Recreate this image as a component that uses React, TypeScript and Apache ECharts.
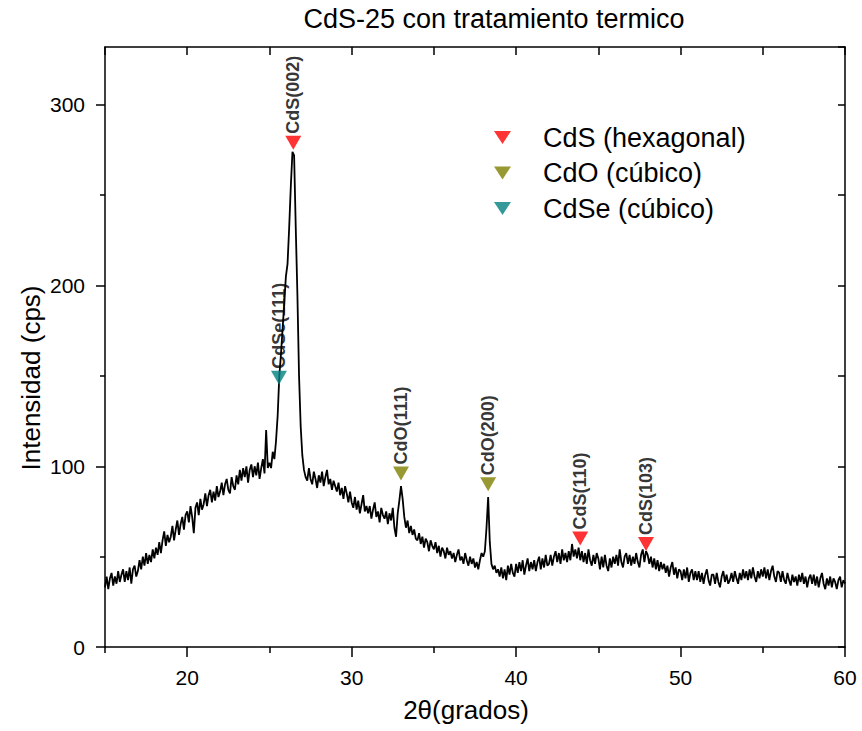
import React, { useEffect, useRef } from "react";
import * as echarts from "echarts";

// 2θ grid of the measured pattern
const TWO_THETA_START = 15;
const TWO_THETA_STEP = 0.1;

// Intensity (cps), one value per 0.1° from 15.0 to 60.0
const intensity: number[] = [
  33, 39, 32, 38, 41, 34, 39, 35, 42, 36,
  40, 43, 36, 42, 37, 44, 35, 43, 45, 39,
  42, 48, 43, 50, 45, 52, 46, 51, 47, 54,
  49, 55, 51, 58, 52, 59, 64, 56, 62, 58,
  61, 67, 59, 65, 70, 62, 68, 72, 65, 73,
  75, 69, 78, 72, 63, 77, 80, 73, 82, 76,
  79, 85, 78, 84, 87, 80, 86, 81, 89, 83,
  86, 91, 84, 90, 93, 87, 85, 94, 89, 87,
  95, 90, 98, 92, 99, 94, 100, 91, 98, 101,
  94, 100, 95, 102, 93, 99, 104, 96, 120, 99,
  102, 99, 108, 104, 114, 128, 150, 162, 176, 190,
  205, 212, 232, 255, 274, 272, 232, 195, 150, 122,
  106, 98, 94, 92, 99, 93, 90, 97, 93, 88,
  95, 91, 97, 89, 94, 98, 90, 93, 87, 92,
  89, 86, 91, 84, 88, 82, 89, 85, 80, 86,
  80, 77, 83, 76, 81, 74, 79, 84, 75, 78,
  74, 78, 71, 76, 80, 72, 75, 69, 77, 73,
  71, 75, 68, 74, 70, 77, 66, 61, 74, 81,
  89, 82, 72, 66, 70, 63, 67, 62, 65, 60,
  59, 63, 57, 61, 55, 60, 58, 53, 59, 56,
  54, 58, 52, 56, 50, 55, 53, 49, 55, 51,
  53, 49, 52, 47, 51, 54, 48, 50, 46, 52,
  48, 45, 50, 46, 49, 44, 47, 43, 48, 52,
  50, 53, 66, 83, 58, 46, 43, 45, 41, 43,
  39, 44, 38, 43, 37, 45, 40, 46, 41, 39,
  46, 41, 47, 42, 48, 40, 45, 49, 42, 47,
  43, 48, 42, 47, 50, 43, 49, 44, 51, 45,
  46, 51, 45, 50, 53, 47, 52, 46, 54, 48,
  52, 47, 53, 48, 57, 50, 54, 49, 55, 48,
  53, 47, 52, 46, 54, 48, 45, 51, 46, 52,
  49, 43, 50, 44, 51, 45, 42, 49, 44, 50,
  46, 51, 45, 54, 47, 44, 50, 52, 46, 51,
  45, 50, 46, 52, 47, 44, 51, 54, 47, 53,
  51, 46, 50, 44, 49, 43, 48, 42, 47, 43,
  46, 41, 45, 39, 44, 47, 40, 44, 38, 43,
  42, 37, 43, 38, 44, 36, 41, 43, 37, 42,
  37, 42, 36, 41, 35, 40, 43, 37, 34, 40,
  40, 35, 41, 36, 33, 39, 42, 36, 40, 35,
  37, 41, 36, 42, 38, 35, 41, 37, 43, 38,
  42, 37, 43, 38, 44, 39, 36, 42, 38, 43,
  39, 44, 38, 43, 37, 42, 45, 39, 36, 42,
  41, 36, 42, 37, 35, 41, 37, 34, 40, 36,
  39, 34, 40, 36, 41, 35, 39, 33, 38, 40,
  35, 40, 34, 39, 33, 38, 41, 35, 32, 38,
  34, 39, 33, 38, 36, 32, 37, 39, 33, 37,
  35,
];

// Peak markers: [2θ, marker height]
const cdsNames = ["CdS(002)", "CdS(110)", "CdS(103)"];
const cdsPeaks: [number, number][] = [[26.45, 279], [43.9, 60], [47.9, 57]];
const cdoNames = ["CdO(111)", "CdO(200)"];
const cdoPeaks: [number, number][] = [[33.0, 96], [38.3, 90]];
const cdseNames = ["CdSe(111)"];
const cdsePeaks: [number, number][] = [[25.58, 149]];

const xMajorTicks = [20, 30, 40, 50, 60];
const xMinorTicks = [15, 25, 35, 45, 55];
const yMajorTicks = [0, 100, 200, 300];
const yMinorTicks = [50, 150, 250];

const FONT = "'Liberation Sans', Arial, Helvetica, sans-serif";
const BLACK = "#000000";

export default function App() {
  const ref = useRef<HTMLDivElement>(null);

  useEffect(() => {
    document.body.style.margin = "0";
    if (!ref.current) return;
    const chart = echarts.init(ref.current, undefined, { renderer: "svg" });

    const lineData = intensity.map((v, i) => [
      +(TWO_THETA_START + i * TWO_THETA_STEP).toFixed(2),
      v,
    ]);

    const peakLabel = {
      show: true,
      formatter: "{b}",
      position: "top" as const,
      rotate: 90,
      align: "left" as const,
      verticalAlign: "middle" as const,
      distance: 2,
      fontFamily: FONT,
      fontWeight: "bold" as const,
      fontSize: 18,
      color: BLACK,
    };

    const markerSeries = (
      name: string,
      color: string,
      names: string[],
      pts: [number, number][]
    ) => ({
      name,
      type: "scatter",
      symbol: "triangle",
      symbolRotate: 180,
      symbolSize: [16, 14],
      xAxisIndex: 0,
      yAxisIndex: 0,
      itemStyle: { color },
      label: peakLabel,
      z: 5,
      data: pts.map((p, i) => ({ name: names[i], value: p })),
    });

    const axisLineStyle = { color: BLACK, width: 1.5 };
    const baseX = {
      type: "value" as const,
      min: 15,
      max: 60,
      interval: 5,
      splitLine: { show: false },
    };
    const baseY = {
      type: "value" as const,
      min: 0,
      max: 332,
      interval: 50,
      splitLine: { show: false },
    };

    const option: any = {
      animation: false,
      backgroundColor: "#ffffff",
      grid: { left: 105, right: 17, top: 47, bottom: 84, containLabel: false },
      legend: {
        orient: "vertical",
        left: 494,
        top: 124,
        padding: 0,
        itemWidth: 17,
        itemHeight: 13,
        itemGap: 8.5,
        textStyle: {
          fontFamily: FONT,
          fontSize: 27,
          color: BLACK,
          padding: [0, 0, 0, 27],
        },
        data: [
          { name: "CdS (hexagonal)", icon: "path://M0,0L17,0L8.5,13Z" },
          { name: "CdO (cúbico)", icon: "path://M0,0L17,0L8.5,13Z" },
          { name: "CdSe (cúbico)", icon: "path://M0,0L17,0L8.5,13Z" },
        ],
      },
      xAxis: [
        {
          ...baseX,
          position: "bottom",
          axisLine: { show: true, onZero: false, lineStyle: axisLineStyle },
          axisTick: {
            show: true,
            inside: false,
            length: 10,
            customValues: xMajorTicks,
            lineStyle: axisLineStyle,
          },
          axisLabel: {
            show: true,
            margin: 20,
            fontFamily: FONT,
            fontSize: 21,
            color: BLACK,
            formatter: (v: number) => (v % 10 === 0 ? String(v) : ""),
          },
        },
        {
          ...baseX,
          position: "bottom",
          axisLine: { show: false, onZero: false },
          axisTick: {
            show: true,
            inside: false,
            length: 6,
            customValues: xMinorTicks,
            lineStyle: axisLineStyle,
          },
          axisLabel: { show: false },
        },
        {
          ...baseX,
          position: "top",
          axisLine: { show: true, onZero: false, lineStyle: axisLineStyle },
          axisTick: { show: true, inside: true, length: 8, lineStyle: axisLineStyle },
          axisLabel: { show: false },
        },
      ],
      yAxis: [
        {
          ...baseY,
          position: "left",
          axisLine: { show: true, onZero: false, lineStyle: axisLineStyle },
          axisTick: {
            show: true,
            inside: false,
            length: 9,
            customValues: yMajorTicks,
            lineStyle: axisLineStyle,
          },
          axisLabel: {
            show: true,
            margin: 20,
            fontFamily: FONT,
            fontSize: 21,
            color: BLACK,
            formatter: (v: number) => (v % 100 === 0 ? String(v) : ""),
          },
        },
        {
          ...baseY,
          position: "left",
          axisLine: { show: false, onZero: false },
          axisTick: {
            show: true,
            inside: false,
            length: 5,
            customValues: yMinorTicks,
            lineStyle: axisLineStyle,
          },
          axisLabel: { show: false },
        },
        {
          ...baseY,
          position: "right",
          axisLine: { show: true, onZero: false, lineStyle: axisLineStyle },
          axisTick: { show: true, inside: true, length: 7, lineStyle: axisLineStyle },
          axisLabel: { show: false },
        },
      ],
      graphic: [
        {
          type: "text",
          x: 494,
          y: 19,
          style: {
            text: "CdS-25 con tratamiento termico",
            fontFamily: FONT,
            fontSize: 27,
            fill: BLACK,
            align: "center",
            verticalAlign: "middle",
          },
        },
        {
          type: "text",
          x: 466,
          y: 710,
          style: {
            text: "2θ(grados)",
            fontFamily: FONT,
            fontSize: 26,
            fill: BLACK,
            align: "center",
            verticalAlign: "middle",
          },
        },
        {
          type: "text",
          x: 31,
          y: 378,
          rotation: Math.PI / 2,
          style: {
            text: "Intensidad (cps)",
            fontFamily: FONT,
            fontSize: 26,
            fill: BLACK,
            align: "center",
            verticalAlign: "middle",
          },
        },
      ],
      series: [
        {
          name: "CdS-25",
          type: "line",
          xAxisIndex: 0,
          yAxisIndex: 0,
          showSymbol: false,
          symbol: "none",
          silent: true,
          lineStyle: { color: BLACK, width: 1.8 },
          z: 3,
          data: lineData,
        },
        markerSeries("CdS (hexagonal)", "#ff0000", cdsNames, cdsPeaks),
        markerSeries("CdO (cúbico)", "#808000", cdoNames, cdoPeaks),
        markerSeries("CdSe (cúbico)", "#008080", cdseNames, cdsePeaks),
      ],
    };

    chart.setOption(option);
    return () => chart.dispose();
  }, []);

  return <div ref={ref} style={{ width: 862, height: 731 }} />;
}
